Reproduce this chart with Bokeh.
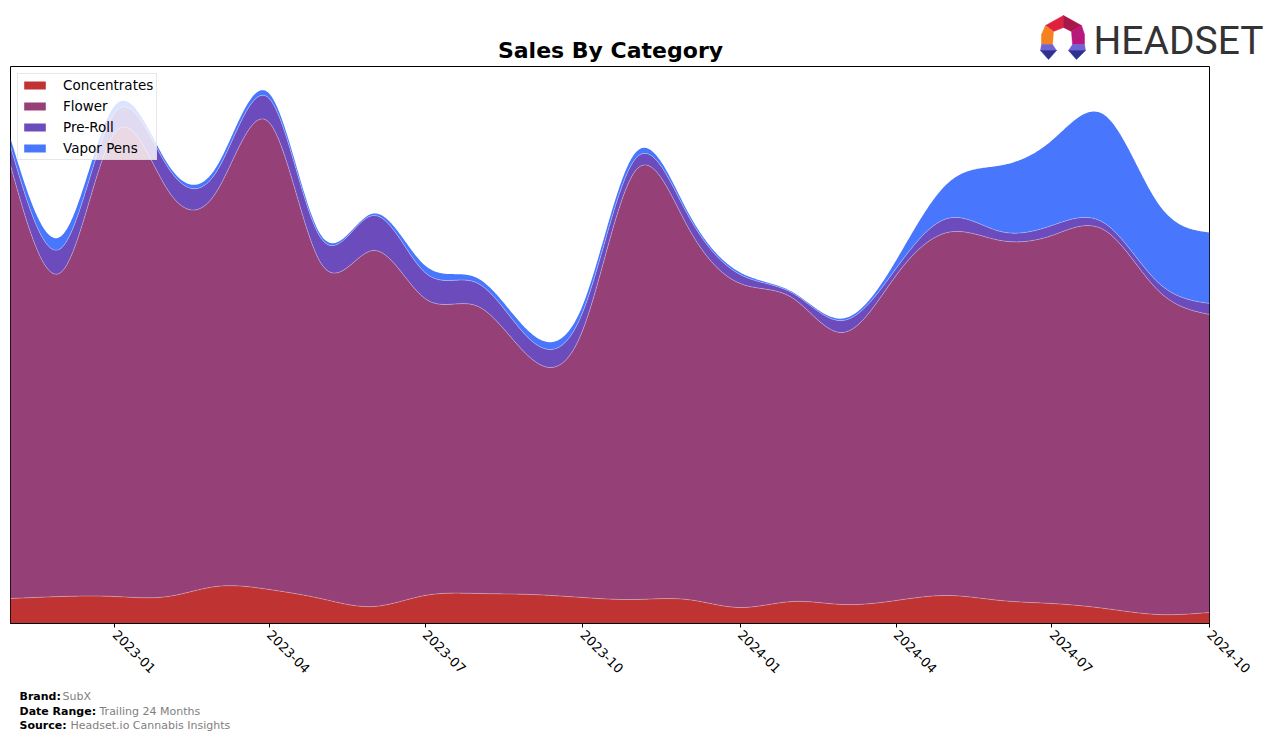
import math
import numpy as np
import pandas as pd
from bokeh.plotting import figure
from bokeh.models import (Range1d, FixedTicker, Label, Legend, LegendItem,
                          ColumnDataSource, DatetimeTickFormatter)
from bokeh.embed import file_html
from bokeh.resources import INLINE

# ---------------- data ----------------
months = ["2022-11", "2022-12", "2023-01", "2023-02", "2023-03", "2023-04",
          "2023-05", "2023-06", "2023-07", "2023-08", "2023-09", "2023-10",
          "2023-11", "2023-12", "2024-01", "2024-02", "2024-03", "2024-04",
          "2024-05", "2024-06", "2024-07", "2024-08", "2024-09", "2024-10"]
categories = ["Concentrates", "Flower", "Pre-Roll", "Vapor Pens"]
concentrates = [25, 27, 27, 27, 37, 34, 25, 17, 28, 30, 29, 26,
                24, 24, 16, 22, 19, 23, 28, 23, 20, 15, 9, 11]
flower = [433, 325, 464, 406, 394, 467, 336, 356, 297, 287, 236, 267,
          429, 374, 324, 303, 272, 325, 363, 360, 368, 378, 324, 298]
pre_roll = [19, 24, 20, 23, 20, 24, 25, 35, 26, 23, 18, 18,
            12, 12, 9, 5, 12, 7, 14, 9, 10, 7, 8, 11]
vapor_pens = [8, 12, 7, 3, 5, 5, 3, 2, 7, 5, 7, 7,
              6, 3, 2, 1, 2, 8, 35, 66, 85, 108, 79, 71]
colors = ["#c03333", "#954177", "#6c4cbd", "#4877fd"]
tick_labels = ["2023-01", "2023-04", "2023-07", "2023-10",
               "2024-01", "2024-04", "2024-07", "2024-10"]

# ---------------- smoothing (natural cubic spline) ----------------
def spline(xk, yk, xs):
    xk = np.asarray(xk, float); yk = np.asarray(yk, float)
    n = len(xk); h = np.diff(xk)
    A = np.zeros((n, n)); b = np.zeros(n)
    A[0, 0] = 1.0; A[-1, -1] = 1.0
    for i in range(1, n - 1):
        A[i, i - 1] = h[i - 1]; A[i, i] = 2 * (h[i - 1] + h[i]); A[i, i + 1] = h[i]
        b[i] = 6 * ((yk[i + 1] - yk[i]) / h[i] - (yk[i] - yk[i - 1]) / h[i - 1])
    M = np.linalg.solve(A, b)
    idx = np.clip(np.searchsorted(xk, xs, side="right") - 1, 0, n - 2)
    x0 = xk[idx]; x1 = xk[idx + 1]; hh = x1 - x0
    t0 = x1 - xs; t1 = xs - x0
    return (M[idx] * t0 ** 3 / (6 * hh) + M[idx + 1] * t1 ** 3 / (6 * hh)
            + (yk[idx] / hh - M[idx] * hh / 6) * t0
            + (yk[idx + 1] / hh - M[idx + 1] * hh / 6) * t1)

dates = pd.to_datetime([m + "-01" for m in months])
xk = (dates - dates[0]).days.values.astype(float)
xs = np.linspace(xk[0], xk[-1], 1400)
xdt = dates[0] + pd.to_timedelta(xs, unit="D")

series = [concentrates, flower, pre_roll, vapor_pens]
smooth = [np.clip(spline(xk, s, xs), 0, None) for s in series]
cum = np.cumsum(np.vstack(smooth), axis=0)
data = {"x": xdt, "b0": np.zeros_like(xs)}
for i in range(4):
    data["b%d" % (i + 1)] = cum[i]
src = ColumnDataSource(data)

W = 1276

# ---------------- header (title + logo) ----------------
hdr = figure(width=W, height=65, x_range=Range1d(0, W), y_range=Range1d(65, 0),
             x_axis_location=None, y_axis_location=None, min_border=0,
             output_backend="svg", toolbar_location=None)
hdr.outline_line_color = None
hdr.xgrid.visible = False
hdr.ygrid.visible = False
hdr.add_layout(Label(x=610, y=50, text="Sales By Category", text_font="DejaVu Sans",
                     text_font_size="22px", text_font_style="bold",
                     text_align="center", text_baseline="middle", text_color="black"))
hdr.add_layout(Label(x=1093, y=40, text="HEADSET",
                     text_font="Roboto", text_font_size="39px",
                     text_align="left", text_baseline="middle", text_color="#333333"))
logo_xs = [[1045, 1063, 1063, 1053], [1063, 1081, 1071, 1063],
           [1045, 1053, 1052, 1041, 1041], [1081, 1084, 1084, 1072, 1071],
           [1041, 1052, 1056, 1040], [1040, 1056, 1048],
           [1072, 1084, 1085, 1068], [1068, 1085, 1076]]
logo_ys = [[25, 15, 27, 31], [15, 25, 31, 27],
           [25, 31, 44, 44, 34], [25, 34, 44, 44, 31],
           [44, 44, 50, 50], [50, 50, 59],
           [44, 44, 50, 50], [50, 50, 59]]
logo_cols = ["#e0203c", "#a8174a", "#f58220", "#b8177c",
             "#6f63d6", "#2e3192", "#6f63d6", "#2e3192"]
hdr.patches(xs=logo_xs, ys=logo_ys, fill_color=logo_cols, line_color=logo_cols,
            line_width=0.5)

# ---------------- main chart ----------------
x0 = dates[0]; x1 = dates[-1]
p = figure(width=W, height=621, x_axis_type="datetime", y_axis_location=None,
           output_backend="svg", toolbar_location=None,
           x_range=Range1d(x0, x1), y_range=Range1d(0, 557),
           min_border_left=10, min_border_right=67, min_border_top=1,
           min_border_bottom=63)
p.background_fill_color = "white"
p.border_fill_color = "white"
p.outline_line_color = "black"
p.outline_line_width = 1
p.xgrid.visible = False
p.ygrid.visible = False

renderers = []
for i, (cat, col) in enumerate(zip(categories, colors)):
    r = p.varea(x="x", y1="b%d" % i, y2="b%d" % (i + 1), source=src,
                fill_color=col, fill_alpha=1.0)
    renderers.append(r)
for i in range(1, 4):
    p.line(x="x", y="b%d" % i, source=src, line_color="white", line_alpha=0.3,
           line_width=1)

tick_ms = [pd.Timestamp(t + "-01").value // 10 ** 6 for t in tick_labels]
p.xaxis.ticker = FixedTicker(ticks=tick_ms)
p.xaxis.formatter = DatetimeTickFormatter(days="%Y-%m", months="%Y-%m",
                                          years="%Y-%m")
p.xaxis.major_label_orientation = -math.pi / 4
p.xaxis.major_label_text_font = "DejaVu Sans"
p.xaxis.major_label_text_font_size = "13px"
p.xaxis.major_label_text_color = "black"
p.xaxis.axis_line_color = "black"
p.xaxis.major_tick_line_color = "black"
p.xaxis.major_tick_out = 4
p.xaxis.major_tick_in = 0
p.xaxis.minor_tick_line_color = None

legend = Legend(items=[LegendItem(label=c, renderers=[r])
                       for c, r in zip(categories, renderers)],
                location="top_left")
legend.margin = 7
legend.padding = 3
legend.spacing = 5
legend.label_height = 14
legend.glyph_height = 10
legend.glyph_width = 27
legend.label_standoff = 15
legend.label_text_font = "DejaVu Sans"
legend.label_text_font_size = "13.5px"
legend.label_text_color = "black"
legend.border_line_color = "#d0d0d0"
legend.background_fill_alpha = 0.8
p.add_layout(legend)

# ---------------- footer ----------------
ftr = figure(width=W, height=56, x_range=Range1d(0, W), y_range=Range1d(56, 0),
             x_axis_location=None, y_axis_location=None, min_border=0,
             output_backend="svg", toolbar_location=None)
ftr.outline_line_color = None
ftr.xgrid.visible = False
ftr.ygrid.visible = False
footer = [(19, 10, "Brand:", True), (62, 10, "SubX", False),
          (19, 25, "Date Range:", True), (99, 25, "Trailing 24 Months", False),
          (19, 39, "Source:", True), (70, 39, "Headset.io Cannabis Insights", False)]
for fx, fy, ft, bold in footer:
    ftr.add_layout(Label(x=fx, y=fy, text=ft, text_font="DejaVu Sans",
                         text_font_size="11px",
                         text_font_style="bold" if bold else "normal",
                         text_color="black" if bold else "#808080",
                         text_align="left", text_baseline="middle"))

open("out.html", "w").write(file_html([hdr, p, ftr], INLINE))
